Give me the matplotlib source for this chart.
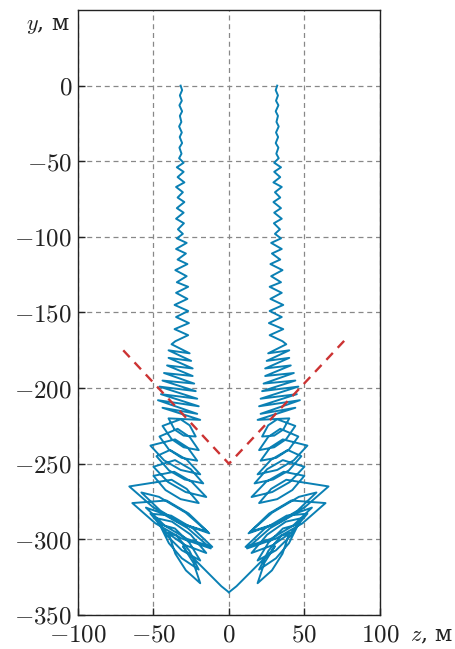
import matplotlib
matplotlib.use("Agg")
import matplotlib.pyplot as plt
from matplotlib.ticker import FuncFormatter

plt.rcParams['mathtext.fontset'] = 'cm'
plt.rcParams['font.family'] = ['DejaVu Serif']

# Left trajectory (z, y) in metres; right is its mirror image
z_left = [
    # y 0 .. -50
    -32, -31, -32.5, -31.2, -32.8, -31, -32.5, -31.5, -33, -31.2, -32.6, -31, -32.8, -31.4, -33,
    # y -50 .. -100
    -30, -34.5, -30, -34, -29.5, -35, -30.5, -34, -29.5, -34.5, -30, -35, -29.8, -33.8, -30.5,
    # y -100 .. -170
    -34.5, -28, -35, -28.5, -34, -27.5, -35.5, -28, -34.5, -27, -35, -27.5, -36, -27, -35, -26.5, -36, -27, -35.5,
    # y -170 .. -200
    -38, -26, -40, -25, -40, -24, -41, -24, -43, -23, -44, -22,
    # y -200 .. -220
    -46, -21, -45, -20, -47, -21, -44, -19,
    # y -220 .. -335 : tilted loops
    -40, -36, -30, -22, -26, -32,
    -44, -38, -30, -20, -26, -34,
    -46, -39.7, -31.3, -21, -27.3, -35.7,
    -52, -43, -32, -19, -28, -39,
    -48, -39.7, -29.3, -17, -25.3, -35.7,
    -50, -40.3, -28.7, -15, -24.7, -36.3,
    -50, -42, -32, -20, -28, -38,
    -66, -50.3, -32.7, -13, -28.7, -46.3,
    -58, -45.3, -30.7, -14, -26.7, -41.3,
    -64, -48.7, -31.3, -12, -27.3, -44.7,
    -55, -42.3, -27.7, -11, -23.7, -38.3,
    -52, -41.7, -29.3, -15, -25.3, -37.7,
    -48, -40.8, -31.2, -19, -26.2, -35.8,
    -46, -39.8, -31.2, -20, -26.2, -34.8,
    -40, -35.5, -28.5, -19, -23.5, -30.5,
    -28, -14, -5, 0,
]
y_left = [
    0, -3, -6.5, -10, -13, -17, -20, -24, -27, -31, -34, -38, -41, -45, -48,
    -51, -54, -57, -60.5, -64, -67, -70.5, -74, -77, -81, -84, -88, -91, -95, -98,
    -101, -104, -108, -111, -115, -118, -122, -126, -130, -133, -137, -141, -145, -149, -153, -157, -161, -165, -169,
    -171, -177, -175, -182, -180, -187, -185, -192, -190, -197, -195, -202,
    -199, -207, -204, -212, -208, -217, -213, -221,
    -220, -227.4, -231.4, -232, -224.6, -220.6,
    -225, -233.7, -239.1, -241, -232.3, -226.9,
    -232, -240.7, -246.1, -248, -239.3, -233.9,
    -238, -247.7, -254.1, -257, -247.3, -240.9,
    -245, -254.4, -260.4, -263, -253.6, -247.6,
    -252, -262.1, -268.7, -272, -261.9, -255.3,
    -258, -267.4, -273.4, -276, -266.6, -260.6,
    -265, -278.7, -289.1, -296, -282.3, -271.9,
    -269, -281.1, -289.7, -295, -282.9, -274.3,
    -276, -289.4, -299.4, -306, -292.6, -282.6,
    -279, -291.1, -299.7, -305, -292.9, -284.3,
    -283, -295.1, -303.7, -309, -296.9, -288.3,
    -286, -297.8, -307.2, -314, -302.2, -292.8,
    -290, -302.5, -312.5, -320, -307.5, -297.5,
    -296, -309.5, -320.5, -329, -315.5, -304.5,
    -308, -322, -331, -335,
]
z_right = [-v for v in z_left]
y_right = list(y_left)

# Red dashed boundary
z_bound = [-70, 0, 78]
y_bound = [-175, -250, -167]

x_ticks = [-100, -50, 0, 50, 100]
y_ticks = [0, -50, -100, -150, -200, -250, -300, -350]

fig = plt.figure(figsize=(4.56, 6.49), dpi=100)
ax = fig.add_axes([0.171, 0.0524, 0.662, 0.9322])

blue = '#0a80b4'
ax.plot(z_left, y_left, color=blue, lw=1.4, zorder=3, solid_joinstyle='round')
ax.plot(z_right, y_right, color=blue, lw=1.4, zorder=3, solid_joinstyle='round')
ax.plot(z_bound, y_bound, color='#cc3333', lw=1.7, ls=(0, (4, 3)), zorder=4)

ax.set_xlim(-100, 100)
ax.set_ylim(-350, 50)
ax.set_xticks(x_ticks)
ax.set_yticks(y_ticks)
fmt = FuncFormatter(lambda v, p: r'$%d$' % v)
ax.xaxis.set_major_formatter(fmt)
ax.yaxis.set_major_formatter(fmt)
ax.tick_params(direction='in', length=5, width=1, labelsize=18, colors='#222222')
ax.tick_params(axis='x', pad=6)
ax.tick_params(axis='y', pad=4)
ax.grid(True, color='#888888', ls=(0, (4, 3)), lw=0.9)
for s in ax.spines.values():
    s.set_color('#222222')
    s.set_linewidth(1.0)

ax.text(-0.1, 0.975, r'$y$, м', transform=ax.transAxes, ha='center', va='center',
        fontsize=16, color='#222222')
ax.text(1.17, -0.033, r'$z$, м', transform=ax.transAxes, ha='center', va='center',
        fontsize=16, color='#222222')

fig.savefig('out.png', dpi=100)
